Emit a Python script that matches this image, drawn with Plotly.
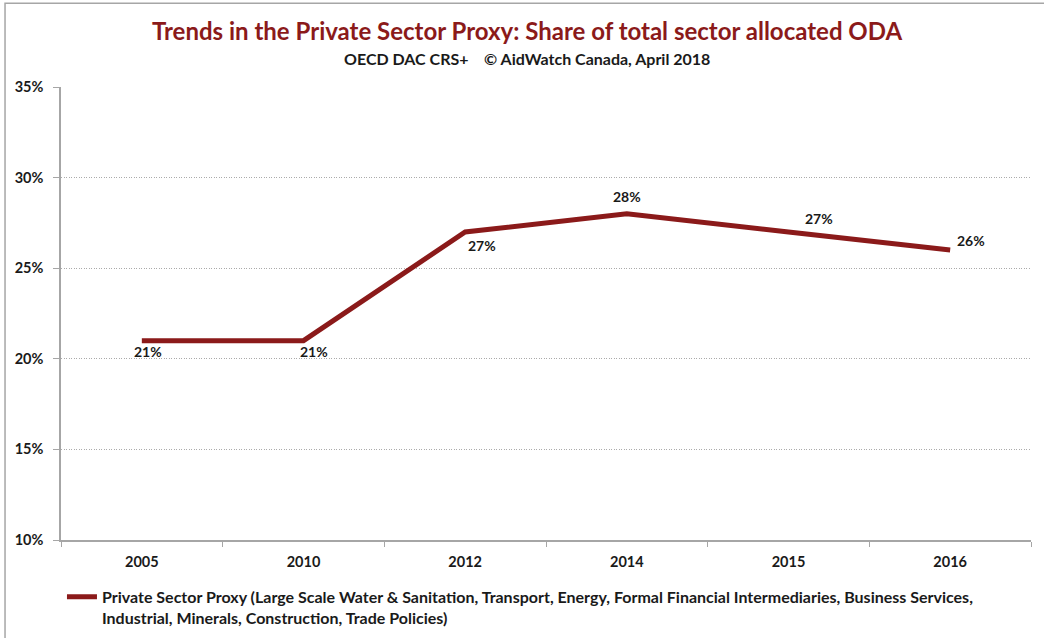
import plotly.graph_objects as go

years = ["2005", "2010", "2012", "2014", "2015", "2016"]
share = [21, 21, 27, 28, 27, 26]
labels = ["21%", "21%", "27%", "28%", "27%", "26%"]
y_ticks = [10, 15, 20, 25, 30, 35]
y_tick_text = ["10%", "15%", "20%", "25%", "30%", "35%"]

series_name = ("Private Sector Proxy (Large Scale Water &amp; Sanitation, Transport, Energy, "
               "Formal Financial Intermediaries, Business Services,<br>"
               "Industrial, Minerals, Construction, Trade Policies)")

# label offsets (pixels) relative to each point
label_dx = [6, 10, 17, 0, 30, 21]
label_dy = [-11, -11, -14, 17, 13, 10]

RED = "#8B1A1A"
FONT = "Lato"
TXT = "#1a1a1a"

fig = go.Figure()
fig.add_trace(go.Scatter(
    x=years, y=share, mode="lines", name=series_name,
    line=dict(color=RED, width=5),
    hoverinfo="skip",
))

for i, (y, t, dx, dy) in enumerate(zip(share, labels, label_dx, label_dy)):
    fig.add_annotation(x=i, y=y, xref="x", yref="y", text=t, showarrow=False,
                       xshift=dx, yshift=dy,
                       font=dict(family=FONT, size=14, color=TXT, weight="bold"))

fig.add_annotation(xref="paper", yref="paper", x=0.480, y=1.0, yshift=57, showarrow=False,
                   text="Trends in the Private Sector Proxy: Share of total sector allocated ODA",
                   font=dict(family=FONT, size=24, color=RED, weight="bold"),
                   xanchor="center", yanchor="middle")
fig.add_annotation(xref="paper", yref="paper", x=0.480, y=1.0, yshift=29, showarrow=False,
                   text="OECD DAC CRS+&nbsp;&nbsp;&nbsp;&nbsp;© AidWatch Canada, April 2018",
                   font=dict(family=FONT, size=16, color=TXT, weight="bold"),
                   xanchor="center", yanchor="middle")

fig.add_shape(type="rect", xref="paper", yref="paper",
              x0=-0.0577, y0=-0.25, x1=1.03, y1=1.185,
              line=dict(color="#A6A6A6", width=1.5), layer="below")

fig.update_layout(
    width=1044, height=638,
    margin=dict(l=61, r=13, t=87, b=98, autoexpand=False),
    paper_bgcolor="white", plot_bgcolor="white",
    font=dict(family=FONT, size=14, color=TXT),
    showlegend=True,
    legend=dict(orientation="h", x=0.001, xanchor="left", y=-0.088, yanchor="top",
                font=dict(family=FONT, size=16, color=TXT, weight="bold"),
                valign="top", itemwidth=30, bgcolor="rgba(0,0,0,0)"),
    xaxis=dict(type="category", showgrid=False, showline=True, linecolor="#A6A6A6",
               linewidth=1.5, ticks="outside", tickson="boundaries", ticklen=5,
               tickcolor="#A6A6A6", tickfont=dict(family=FONT, size=14.5, weight="bold"),
               ticklabelstandoff=8, range=[-0.5, 5.5], fixedrange=True),
    yaxis=dict(range=[10, 35], tickvals=y_ticks, ticktext=y_tick_text,
               showgrid=True, gridcolor="#ABABAB", griddash="1px,1.5px", gridwidth=1,
               showline=True, linecolor="#A6A6A6", linewidth=1.5, ticks="outside",
               ticklen=6, tickcolor="#A6A6A6", zeroline=False, ticklabelstandoff=7,
               tickfont=dict(family=FONT, size=14.5, weight="bold"), fixedrange=True),
)

fig.write_html("out.html", config={"displayModeBar": False},
               post_script="document.body.style.margin='0';")
